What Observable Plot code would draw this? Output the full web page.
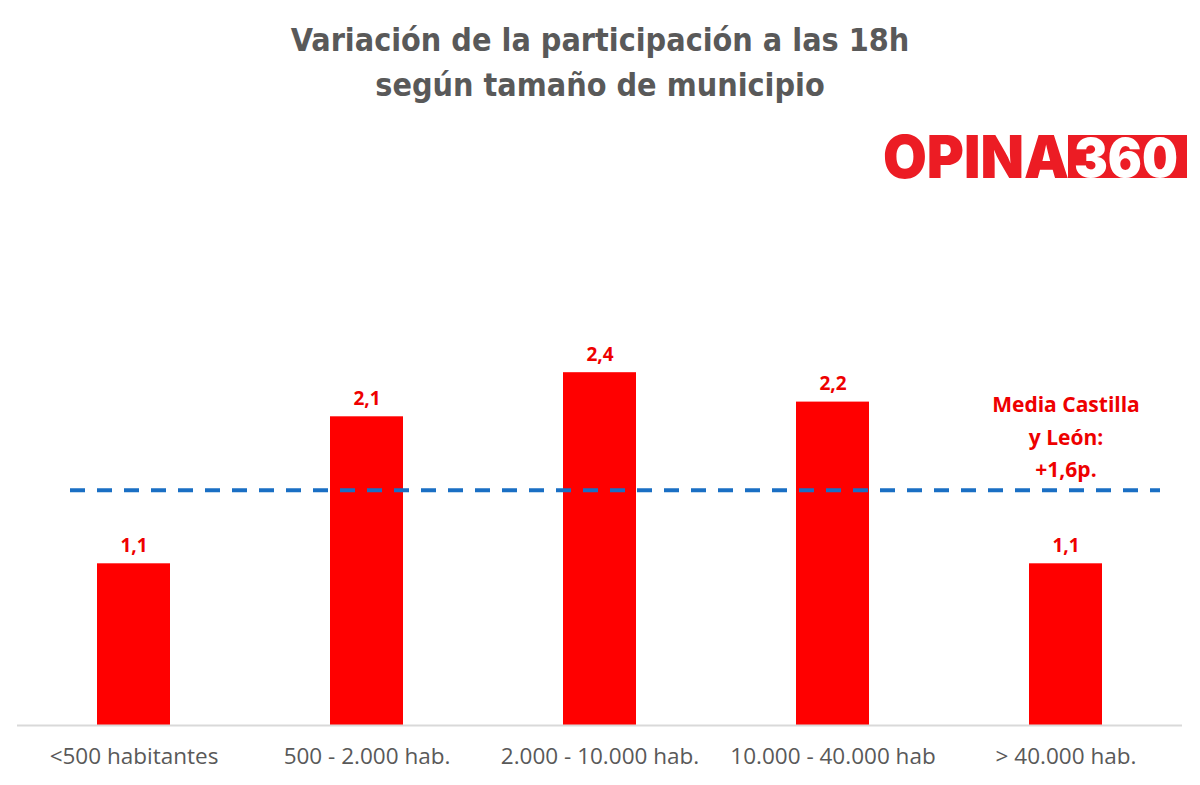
<!DOCTYPE html>
<html>
<head>
<meta charset="utf-8">
<script src="https://cdn.jsdelivr.net/npm/d3@7"></script>
<script src="https://cdn.jsdelivr.net/npm/@observablehq/plot@0.6"></script>
<style>
  body { margin: 0; background: #fff; width: 1200px; height: 785px; overflow: hidden; position: relative; }
  #title {
    height: 110px; box-sizing: border-box; padding-top: 18px;
    text-align: center; color: #595959;
    font-family: "Liberation Sans Narrow", "DejaVu Sans Condensed", sans-serif;
    font-weight: bold; font-size: 32px; line-height: 45px;
  }
  #logo { position: absolute; left: 880px; top: 115px; overflow: visible; }
</style>
</head>
<body>
<div id="title">Variación de la participación a las 18h<br>según tamaño de municipio</div>
<svg id="logo" width="312" height="75" viewBox="0 0 312 75">
  <rect x="188" y="20" width="119" height="43" fill="#ec1c24"></rect>
  <text x="194" y="62" fill="#fff" font-family="Inter, 'DejaVu Sans', sans-serif" font-weight="900" font-size="54" textLength="104" lengthAdjust="spacingAndGlyphs">360</text>
  <text x="3" y="63" fill="#ec1c24" font-family="Inter, 'DejaVu Sans', sans-serif" font-weight="900" font-size="59" textLength="186" lengthAdjust="spacingAndGlyphs">OPINA</text>
</svg>
<div id="chart"></div>
<script>
// Change in turnout at 18h versus the previous election, by municipality size
const categories = ["<500 habitantes", "500 - 2.000 hab.", "2.000 - 10.000 hab.", "10.000 - 40.000 hab", "> 40.000 hab."];
const values = [1.1, 2.1, 2.4, 2.2, 1.1];
const average = 1.6; // regional mean, Castilla y León

const fmt = v => v.toFixed(1).replace(".", ",");
const rows = categories.map((category, i) => ({category, value: values[i]}));

const chart = Plot.plot({
  width: 1200,
  height: 675,
  marginTop: 27,
  marginBottom: 60,
  marginLeft: 17,
  marginRight: 18,
  x: {domain: categories, paddingInner: 0.687, paddingOuter: 0.3435, label: null},
  y: {domain: [0, 4], axis: null},
  style: {background: "#fff", fontFamily: "'Open Sans', sans-serif"},
  marks: [
    Plot.barY(rows, {x: "category", y: "value", fill: "#ff0000"}),
    Plot.ruleY([0], {stroke: "#d9d9d9", strokeWidth: 2}),
    Plot.ruleY([average], {stroke: "#1a6fc4", strokeWidth: 4, strokeDasharray: "15,12", insetLeft: 53, insetRight: 22}),
    Plot.text(rows, {
      x: "category", y: "value", text: d => fmt(d.value),
      dy: -12, lineAnchor: "bottom", fill: "#ee0000", fontWeight: "bold", fontSize: 19
    }),
    Plot.text([average], {
      x: () => categories[categories.length - 1], y: d => d,
      text: d => `Media Castilla\ny León:\n+${fmt(d)}p.`,
      dy: -13, lineAnchor: "bottom", lineHeight: 1.55,
      fill: "#ee0000", fontWeight: "bold", fontSize: 21
    }),
    Plot.axisX({tickSize: 0, tickPadding: 23, fontSize: 22.5, fill: "#595959", label: null})
  ]
});
document.getElementById("chart").append(chart);
</script>
</body>
</html>
